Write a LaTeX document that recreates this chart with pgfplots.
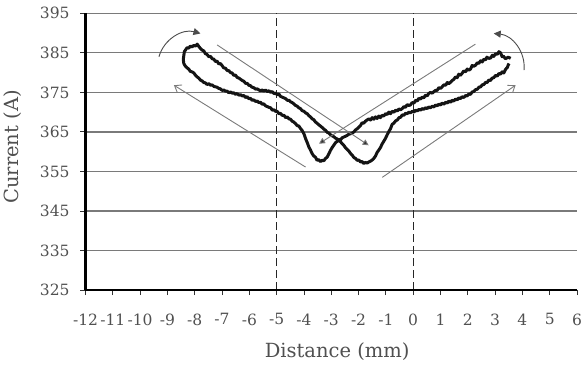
\documentclass[border=0pt]{standalone}
\usepackage{pgfplots}
\pgfplotsset{compat=1.18}
\usepackage{fontspec}
\setmainfont{DejaVu Serif}
\usetikzlibrary{arrows.meta}
\definecolor{gridgray}{HTML}{7A7A7A}
\definecolor{arrgray}{HTML}{7A7A7A}
\definecolor{txtgray}{HTML}{505050}

\begin{document}
\begin{tikzpicture}
\begin{axis}[
  at={(0,0)}, anchor=south west,
  scale only axis, width=491.5bp, height=276.7bp,
  xmin=-12, xmax=6, ymin=325, ymax=395,
  clip=false,
  axis line style={draw=none},
  xtick={-12,-11,...,6},
  xticklabels={-12,-11,-10,-9,-8,-7,-6,-5,-4,-3,-2,-1,0,1,2,3,4,5,6},
  ytick={325,335,...,395},
  xtick pos=bottom, ytick pos=left,
  tick align=outside, major tick length=5bp,
  tick style={black!80, line width=0.8bp},
  ymajorgrids, major grid style={gridgray, line width=1.3bp},
  tick label style={font=\fontsize{15.5bp}{18bp}\selectfont, text=txtgray},
  /pgf/number format/assume math mode=true,
  yticklabel style={anchor=east, xshift=-7.5bp},
  xticklabel style={yshift=-15bp},
  xlabel={Distance (mm)},
  ylabel={Current (A)},
  every axis x label/.style={at={(axis description cs:0.512,-0.224)}, anchor=center, font=\fontsize{19.5bp}{22bp}\selectfont, text=txtgray},
  every axis y label/.style={at={(axis description cs:-0.1475,0.517)}, anchor=center, rotate=90, font=\fontsize{19.5bp}{22bp}\selectfont, text=txtgray},
]
% dashed reference lines
\addplot[black!85, line width=1.2bp, dash pattern=on 8bp off 4bp] coordinates {(-5,325) (-5,395)};
\addplot[black!85, line width=1.2bp, dash pattern=on 8bp off 4bp] coordinates {(0,325) (0,395)};

% measured current loop
\addplot[black!92, line width=3bp, line join=round] coordinates {
(3.57,383.6) (3.48,383.9) (3.38,383.5) (3.30,384.2) (3.26,384.0) (3.20,385.0) (3.14,385.3) (3.08,384.6) (3.02,384.8) (2.95,384.1) (2.90,384.4) (2.84,383.7) (2.77,383.6) (2.70,383.9) (2.65,383.2) (2.59,383.4) (2.53,382.7) (2.47,383.0) (2.40,382.3) (2.35,382.5) (2.29,381.9) (2.22,381.6) (2.16,381.8) (2.10,380.9) (2.04,380.6) (1.98,380.9) (1.92,380.2) (1.85,380.4) (1.79,379.8) (1.73,379.3) (1.67,379.6) (1.61,378.7) (1.55,378.9) (1.49,378.3) (1.43,378.0) (1.37,377.6) (1.31,377.2) (1.25,377.5) (1.19,376.8) (1.12,376.9) (1.06,376.4) (1.00,376.0) (0.94,376.2) (0.88,375.5) (0.82,375.5) (0.76,375.2) (0.70,374.8) (0.63,375.0) (0.57,374.7) (0.51,374.1) (0.45,374.3) (0.39,373.6) (0.33,373.8) (0.27,373.3) (0.21,373.5) (0.15,372.8) (0.09,373.0) (0.03,372.3) (-0.04,372.4) (-0.10,371.8) (-0.16,371.7) (-0.22,371.9) (-0.28,371.2) (-0.34,371.4) (-0.40,370.9) (-0.46,370.6) (-0.52,370.8) (-0.58,370.3) (-0.64,370.5) (-0.70,370.0) (-0.77,370.2) (-0.83,369.6) (-0.89,370.0) (-0.95,369.4) (-1.01,369.6) (-1.08,369.0) (-1.14,369.2) (-1.20,368.6) (-1.26,369.0) (-1.32,368.4) (-1.38,368.8) (-1.44,368.2) (-1.50,368.6) (-1.56,368.0) (-1.62,368.3) (-1.69,368.0) (-1.75,367.7) (-1.81,367.2) (-1.87,367.3) (-1.93,366.6) (-1.99,366.2) (-2.05,365.8) (-2.11,365.5) (-2.17,365.0) (-2.23,364.7) (-2.30,364.5) (-2.36,364.4) (-2.42,364.1) (-2.48,363.9) (-2.54,363.7) (-2.60,363.5) (-2.66,363.0) (-2.72,363.1) (-2.78,362.6) (-2.84,362.3) (-2.91,361.6) (-2.97,361.0) (-3.03,360.3) (-3.09,359.4) (-3.15,358.6) (-3.21,358.3) (-3.27,357.7) (-3.33,357.8) (-3.40,357.5) (-3.46,358.0) (-3.52,357.8) (-3.58,358.6) (-3.64,358.9) (-3.70,359.5) (-3.76,360.4) (-3.82,361.2) (-3.88,362.3) (-3.94,363.3) (-4.00,364.5) (-4.07,365.4) (-4.13,365.9) (-4.19,366.5) (-4.25,366.6) (-4.31,367.1) (-4.37,367.5) (-4.43,367.7) (-4.49,368.2) (-4.55,368.3) (-4.61,368.8) (-4.67,368.6) (-4.73,369.2) (-4.80,369.2) (-4.86,369.7) (-4.92,369.6) (-4.98,370.2) (-5.04,370.2) (-5.10,370.6) (-5.16,370.5) (-5.22,371.1) (-5.28,371.2) (-5.34,371.4) (-5.41,371.6) (-5.47,372.1) (-5.53,372.0) (-5.59,372.5) (-5.65,372.4) (-5.71,372.8) (-5.77,372.7) (-5.84,373.1) (-5.90,373.0) (-5.96,373.5) (-6.02,373.4) (-6.08,373.9) (-6.14,373.7) (-6.20,374.2) (-6.26,374.1) (-6.32,374.4) (-6.38,374.3) (-6.45,374.7) (-6.51,374.5) (-6.57,374.9) (-6.63,374.8) (-6.69,375.1) (-6.75,374.9) (-6.81,375.3) (-6.87,375.3) (-6.94,375.6) (-7.00,375.5) (-7.06,375.9) (-7.12,376.0) (-7.18,376.3) (-7.24,376.4) (-7.30,376.5) (-7.36,376.9) (-7.42,376.8) (-7.48,377.2) (-7.55,377.0) (-7.61,377.4) (-7.67,377.5) (-7.73,377.9) (-7.79,378.1) (-7.85,378.6) (-7.91,378.9) (-7.97,379.3) (-8.03,379.9) (-8.10,380.2) (-8.16,380.3) (-8.22,380.9) (-8.28,381.2) (-8.34,381.6) (-8.40,382.3) (-8.42,383.3) (-8.40,384.3) (-8.38,385.3) (-8.33,385.8) (-8.28,386.3) (-8.22,386.2) (-8.16,386.7) (-8.10,386.5) (-8.03,386.9) (-7.97,386.7) (-7.91,387.2) (-7.85,386.6) (-7.79,386.1) (-7.73,385.7) (-7.67,385.5) (-7.61,384.8) (-7.55,384.6) (-7.48,384.0) (-7.42,384.1) (-7.36,383.5) (-7.30,383.4) (-7.24,382.8) (-7.18,382.9) (-7.12,382.2) (-7.06,382.3) (-7.00,381.8) (-6.94,381.2) (-6.87,381.1) (-6.81,380.5) (-6.75,380.5) (-6.69,380.0) (-6.63,379.9) (-6.57,379.3) (-6.51,379.4) (-6.45,378.8) (-6.38,378.6) (-6.32,378.3) (-6.26,378.0) (-6.20,377.8) (-6.14,377.3) (-6.08,377.3) (-6.02,376.8) (-5.96,376.7) (-5.90,376.3) (-5.84,376.2) (-5.77,375.8) (-5.71,375.9) (-5.65,375.6) (-5.59,375.4) (-5.53,375.6) (-5.47,375.3) (-5.41,375.6) (-5.34,375.2) (-5.28,375.4) (-5.22,375.0) (-5.16,375.2) (-5.10,374.7) (-5.04,374.8) (-4.98,374.4) (-4.92,374.6) (-4.86,374.0) (-4.80,373.8) (-4.73,373.6) (-4.67,373.4) (-4.61,373.0) (-4.55,373.0) (-4.49,372.6) (-4.43,372.4) (-4.37,372.1) (-4.31,371.7) (-4.25,371.5) (-4.19,371.1) (-4.13,370.9) (-4.07,370.4) (-4.00,370.2) (-3.94,369.8) (-3.88,369.6) (-3.82,369.1) (-3.76,368.8) (-3.70,368.3) (-3.64,368.1) (-3.58,367.5) (-3.52,367.2) (-3.46,366.8) (-3.40,366.5) (-3.33,366.1) (-3.27,365.7) (-3.21,365.4) (-3.15,364.9) (-3.09,364.7) (-3.03,364.3) (-2.97,364.0) (-2.91,363.8) (-2.84,363.4) (-2.78,363.2) (-2.72,362.8) (-2.66,362.5) (-2.60,362.0) (-2.54,361.6) (-2.48,361.0) (-2.42,360.6) (-2.36,360.2) (-2.30,359.6) (-2.23,359.1) (-2.17,358.5) (-2.11,358.3) (-2.05,357.8) (-1.99,357.9) (-1.93,357.4) (-1.87,357.5) (-1.81,357.0) (-1.75,357.3) (-1.69,357.1) (-1.62,357.4) (-1.56,357.6) (-1.50,357.9) (-1.44,358.3) (-1.38,358.9) (-1.32,359.8) (-1.26,360.4) (-1.20,361.0) (-1.14,361.9) (-1.08,362.6) (-1.01,363.4) (-0.95,364.3) (-0.89,365.1) (-0.83,365.8) (-0.77,366.9) (-0.71,367.2) (-0.64,367.8) (-0.58,368.0) (-0.52,368.6) (-0.46,368.7) (-0.40,369.3) (-0.34,369.2) (-0.28,369.7) (-0.22,369.6) (-0.16,370.0) (-0.10,369.8) (-0.04,370.2) (0.03,370.0) (0.09,370.5) (0.15,370.3) (0.21,370.7) (0.27,370.5) (0.33,370.9) (0.39,370.7) (0.45,371.1) (0.51,370.9) (0.57,371.3) (0.63,371.1) (0.70,371.5) (0.76,371.3) (0.82,371.8) (0.88,371.6) (0.94,372.0) (1.00,371.8) (1.06,372.3) (1.12,372.0) (1.19,372.5) (1.25,372.3) (1.31,372.8) (1.37,372.5) (1.43,373.0) (1.49,372.8) (1.55,373.3) (1.61,373.1) (1.67,373.6) (1.73,373.4) (1.79,373.9) (1.85,373.7) (1.92,374.2) (1.98,374.1) (2.04,374.6) (2.10,374.5) (2.16,375.1) (2.22,375.2) (2.29,375.7) (2.35,375.8) (2.41,376.3) (2.47,376.4) (2.53,376.9) (2.59,377.0) (2.65,377.5) (2.71,377.5) (2.77,378.1) (2.83,378.0) (2.89,378.6) (2.95,378.7) (3.02,379.3) (3.08,379.1) (3.14,379.8) (3.20,379.6) (3.26,380.2) (3.32,379.9) (3.38,380.8) (3.45,381.3) (3.48,381.9) (3.51,382.3)
};

% direction arrows
\draw[arrgray, line width=0.9bp, -{Straight Barb[length=6bp,width=9bp]}] (axis cs:-3.94,356.1) -- (axis cs:-8.76,376.8);
\draw[arrgray, line width=0.9bp, -{Straight Barb[length=6bp,width=9bp]}] (axis cs:-1.13,353.5) -- (axis cs:3.75,376.8);
\draw[arrgray, line width=0.9bp, -{Triangle[length=6bp,width=6bp,fill=black!80]}] (axis cs:-7.18,387.0) -- (axis cs:-1.63,361.6);
\draw[arrgray, line width=0.9bp, -{Triangle[length=6bp,width=6bp,fill=black!80]}] (axis cs:2.28,387.2) -- (axis cs:-3.45,362.0);
\draw[black!70, line width=0.9bp, -{Triangle[length=7bp,width=7bp]}] (axis cs:-9.31,384.0) to[bend left=45] (axis cs:-7.79,389.9);
\draw[black!70, line width=0.9bp, -{Triangle[length=7bp,width=7bp]}] (axis cs:4.06,380.6) to[bend right=45] (axis cs:2.95,389.9);

% axis lines
\draw[black, line width=2.4bp] (axis cs:-12,325) -- (axis cs:-12,395);
\draw[black, line width=2bp] (axis cs:-12,325) -- (axis cs:6,325);
\end{axis}
\pgfresetboundingbox
\useasboundingbox (-85.5bp,-76bp) rectangle (499.5bp,290bp);
\end{tikzpicture}
\end{document}
